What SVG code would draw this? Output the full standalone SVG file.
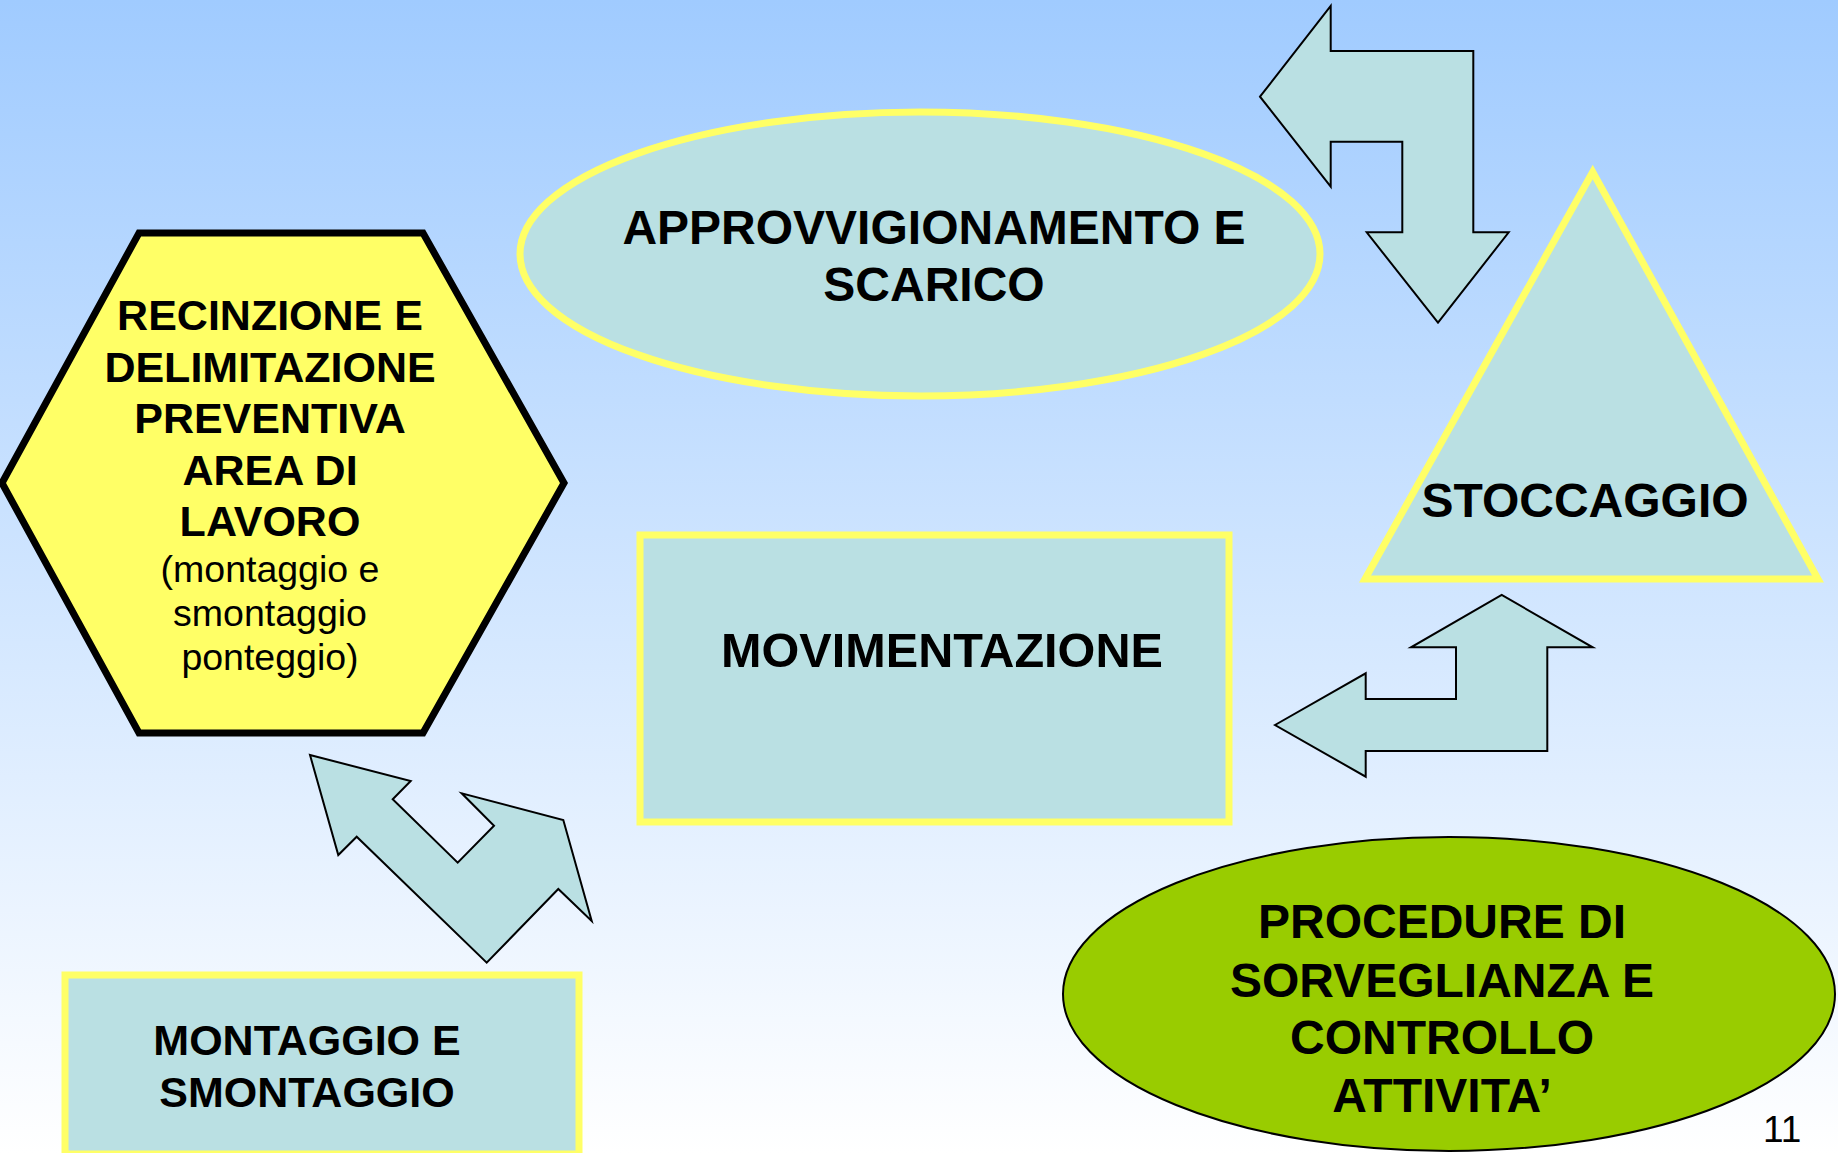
<svg xmlns="http://www.w3.org/2000/svg" width="1838" height="1153" viewBox="0 0 1838 1153">
  <defs>
    <linearGradient id="bg" x1="0" y1="0" x2="0" y2="1">
      <stop offset="0" stop-color="#A0CBFF"/>
      <stop offset="1" stop-color="#FFFFFF"/>
    </linearGradient>
  </defs>
  <style>
    .box { fill: #BAE0E3; stroke: #FFFF66; stroke-width: 7; }
    .arrow { fill: #BAE0E3; stroke: #000000; stroke-width: 2; stroke-linejoin: miter; }
    .b48 { font-family: "Liberation Sans", Arial, sans-serif; font-weight: bold; font-size: 48px; fill: #000; text-anchor: middle; }
    .b43 { font-family: "Liberation Sans", Arial, sans-serif; font-weight: bold; font-size: 43px; fill: #000; text-anchor: middle; }
    .r37 { font-family: "Liberation Sans", Arial, sans-serif; font-size: 37.5px; fill: #000; text-anchor: middle; }
  </style>
  <rect x="0" y="0" width="1838" height="1153" fill="url(#bg)"/>

  <g id="connectors">
    <polygon class="arrow" points="1260,96.7 1330.7,6 1330.7,51 1473.3,51 1473.3,232.3 1508.7,232.3 1438,322.7 1366.7,232.3 1402.3,232.3 1402.3,141.7 1330.7,141.7 1330.7,186.7"/>
    <polygon class="arrow" points="1275,725 1365.7,673.3 1365.7,699 1456,699 1456,647.3 1411,647.3 1501.7,595 1592.7,647.3 1547.3,647.3 1547.3,751 1365.7,751 1365.7,776.7"/>
    <polygon class="arrow" points="310,755 410.7,781 392.7,799.3 457.7,862.7 494,825.7 461.7,793.3 563.3,820 591.7,921 558.3,889 486.7,962.7 356.7,836.7 338.3,855"/>
  </g>

  <g id="approvvigionamento">
    <ellipse class="box" cx="920" cy="254" rx="400" ry="142"/>
    <text class="b48" x="934" y="244">APPROVVIGIONAMENTO E</text>
    <text class="b48" x="934" y="301">SCARICO</text>
  </g>

  <g id="recinzione">
    <polygon points="139,233 423,233 564,483 423,733 139,733 2,483" fill="#FFFF66" stroke="#000" stroke-width="7" stroke-linejoin="miter"/>
    <text class="b43" x="270" y="330">RECINZIONE E</text>
    <text class="b43" x="270" y="382">DELIMITAZIONE</text>
    <text class="b43" x="270" y="433">PREVENTIVA</text>
    <text class="b43" x="270" y="485">AREA DI</text>
    <text class="b43" x="270" y="536">LAVORO</text>
    <text class="r37" x="270" y="582">(montaggio e</text>
    <text class="r37" x="270" y="626">smontaggio</text>
    <text class="r37" x="270" y="670">ponteggio)</text>
  </g>

  <g id="movimentazione">
    <rect class="box" x="640" y="535" width="589" height="287"/>
    <text class="b48" x="942" y="667" style="font-size:48.6px">MOVIMENTAZIONE</text>
  </g>

  <g id="stoccaggio">
    <polygon class="box" points="1592.7,172 1818,579 1365,579"/>
    <text class="b48" x="1585" y="517">STOCCAGGIO</text>
  </g>

  <g id="montaggio">
    <rect class="box" x="65" y="975" width="514" height="179"/>
    <text class="b43" x="307" y="1055">MONTAGGIO E</text>
    <text class="b43" x="307" y="1107">SMONTAGGIO</text>
  </g>

  <g id="procedure">
    <ellipse cx="1449" cy="994" rx="386" ry="157" fill="#99CC00" stroke="#000" stroke-width="2"/>
    <text class="b48" x="1442" y="938">PROCEDURE DI</text>
    <text class="b48" x="1442" y="997">SORVEGLIANZA E</text>
    <text class="b48" x="1442" y="1054">CONTROLLO</text>
    <text class="b48" x="1442" y="1112">ATTIVITA’</text>
  </g>

  <text x="1763" y="1142" font-family="Liberation Sans, Arial, sans-serif" font-size="37" fill="#000">11</text>
</svg>
